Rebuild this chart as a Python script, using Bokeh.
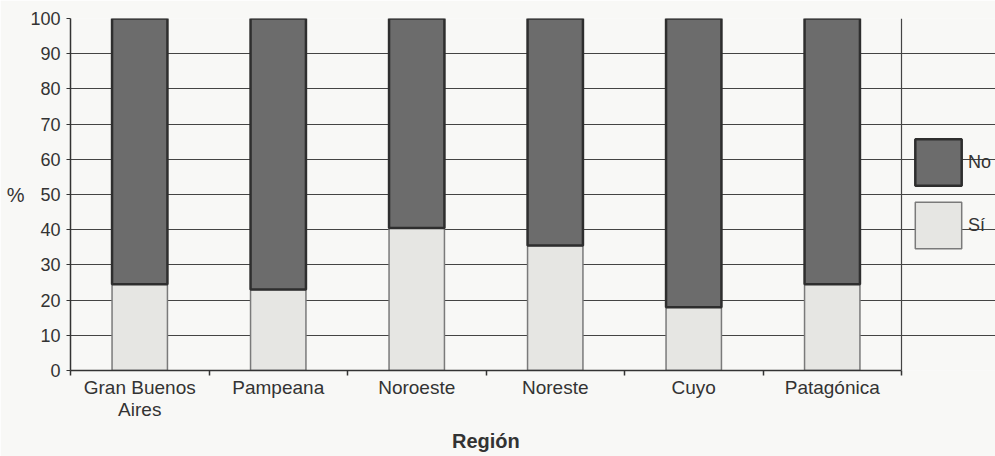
from bokeh.plotting import figure
from bokeh.models import (ColumnDataSource, FixedTicker, Legend, LegendItem, Range1d, Span, Title)
from bokeh.embed import file_html
from bokeh.resources import INLINE

regions = ["Gran Buenos\nAires", "Pampeana", "Noroeste", "Noreste", "Cuyo", "Patagónica"]
si = [24.5, 23, 40.5, 35.5, 18, 24.5]
no = [75.5, 77, 59.5, 64.5, 82, 75.5]
y_ticks = [0, 10, 20, 30, 40, 50, 60, 70, 80, 90, 100]
series = ["Sí", "No"]

n = len(regions)
xpos = [i + 0.5 for i in range(n)]
src = ColumnDataSource(dict(x=xpos, si=si, no=no))

FONT = "Liberation Sans"
BG = "#f8f8f6"
INK = "#333333"
FILLS = ["#e6e6e3", "#6c6c6c"]
LINES = ["#7a7a7a", "#2e2e2e"]
LWS = [1.5, 2.5]

FRAME_W = 925          # plot frame (includes the legend strip on the right)
CHART_W = 831          # width of the region occupied by the categories
x_end = n * FRAME_W / CHART_W

p = figure(frame_width=FRAME_W, frame_height=352, output_backend="svg", toolbar_location=None,
           x_range=Range1d(0, x_end), y_range=Range1d(0, 100),
           min_border_left=70, min_border_top=18, min_border_bottom=86, min_border_right=0,
           background_fill_color=BG, border_fill_color=BG)
p.outline_line_color = None

rs = p.vbar_stack(["si", "no"], x="x", width=0.4, source=src,
                  fill_color=FILLS, line_color=LINES, line_width=LWS)

# grid limited to the chart area
p.xgrid.visible = False
p.ygrid.ticker = FixedTicker(ticks=y_ticks)
p.ygrid.grid_line_color = "#444444"
p.ygrid.grid_line_width = 1.2
p.ygrid.bounds = (0, n)

# right border of chart area
p.add_layout(Span(location=n, dimension="height", line_color="#444444", line_width=1.2))

# y axis
p.yaxis.ticker = FixedTicker(ticks=y_ticks)
p.yaxis.major_tick_out = 4
p.yaxis.major_tick_in = 0
p.yaxis.minor_tick_line_color = None
p.yaxis.major_label_standoff = 6
p.yaxis.axis_line_color = INK
p.yaxis.axis_line_width = 1.5
p.yaxis.major_tick_line_color = INK
p.yaxis.major_label_text_font = FONT
p.yaxis.major_label_text_font_size = "18px"
p.yaxis.major_label_text_color = INK
p.yaxis.axis_label = "%"
p.yaxis.axis_label_text_font = FONT
p.yaxis.axis_label_text_font_style = "normal"
p.yaxis.axis_label_text_font_size = "20px"
p.yaxis.axis_label_text_color = INK
p.yaxis.axis_label_standoff = 3
if "axis_label_orientation" in p.yaxis[0].properties():
    p.yaxis.axis_label_orientation = "horizontal"

# x axis
p.xaxis.bounds = (0, n)
p.xaxis.ticker = FixedTicker(ticks=xpos, minor_ticks=list(range(n + 1)))
p.xaxis.major_label_overrides = {x: r for x, r in zip(xpos, regions)}
p.xaxis.major_tick_out = 0
p.xaxis.major_tick_in = 0
p.xaxis.minor_tick_out = 5
p.xaxis.minor_tick_in = 0
p.xaxis.minor_tick_line_color = INK
p.xaxis.minor_tick_line_width = 1.5
p.xaxis.axis_line_color = INK
p.xaxis.axis_line_width = 1.5
p.xaxis.major_label_standoff = 1
p.xaxis.major_label_text_font = FONT
p.xaxis.major_label_text_font_size = "19px"
p.xaxis.major_label_text_line_height = 1.05
p.xaxis.major_label_text_color = INK

# x-axis title, centred under the category area (not the legend strip)
TITLE_W = 68
xtitle = Title(text="Región", align="left", offset=(CHART_W - TITLE_W) / 2,
               text_font=FONT, text_font_style="bold", text_font_size="20px",
               text_color=INK, standoff=10)
p.add_layout(xtitle, "below")

legend = Legend(items=[LegendItem(label=series[1], renderers=[rs[1]]),
                       LegendItem(label=series[0], renderers=[rs[0]])],
                location=(839, 116), orientation="vertical",
                glyph_width=58, glyph_height=58, spacing=5, padding=0, margin=0,
                label_standoff=1, label_text_font=FONT, label_text_font_size="18px",
                label_text_color=INK, border_line_color=None,
                background_fill_alpha=0)
p.add_layout(legend)

open("out.html", "w").write(file_html(p, INLINE))
